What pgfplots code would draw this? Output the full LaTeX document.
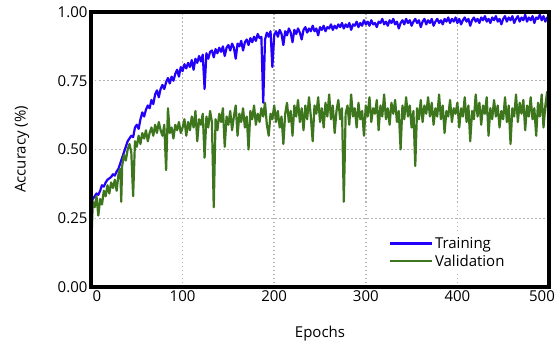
\documentclass[border=0pt]{standalone}
\usepackage{fontspec}
\setmainfont{Open Sans}
\usepackage{pgfplots}
\usepackage{pgfplotstable}
\pgfplotsset{compat=1.18}
\usetikzlibrary{calc}
\definecolor{trainblue}{RGB}{35,0,250}
\definecolor{valgreen}{RGB}{62,118,30}
\definecolor{gridgray}{RGB}{180,180,180}

\pgfplotstableread{
e v
0 0.30
2 0.32
4 0.33
6 0.34
8 0.335
10 0.35
12 0.37
14 0.365
16 0.38
18 0.39
20 0.395
22 0.40
24 0.41
26 0.405
28 0.42
30 0.43
32 0.45
34 0.47
36 0.49
38 0.51
40 0.53
42 0.54
44 0.55
46 0.545
48 0.58
50 0.59
52 0.575
54 0.61
56 0.635
58 0.62
60 0.645
62 0.66
64 0.65
66 0.68
68 0.665
70 0.70
72 0.715
74 0.69
76 0.72
78 0.735
80 0.72
82 0.745
84 0.76
86 0.74
88 0.765
90 0.75
92 0.775
94 0.79
96 0.765
98 0.80
100 0.785
102 0.81
104 0.795
106 0.815
108 0.80
110 0.825
112 0.79
114 0.83
116 0.815
118 0.84
120 0.82
122 0.845
124 0.72
126 0.85
128 0.83
130 0.855
132 0.86
134 0.835
136 0.865
138 0.85
140 0.87
142 0.855
144 0.875
146 0.84
148 0.87
150 0.88
152 0.86
154 0.885
156 0.87
158 0.83
160 0.885
162 0.875
164 0.895
166 0.86
168 0.89
170 0.90
172 0.88
174 0.905
176 0.89
178 0.91
180 0.895
182 0.92
184 0.905
186 0.91
188 0.67
190 0.90
192 0.925
194 0.91
196 0.93
198 0.80
200 0.915
202 0.93
204 0.91
206 0.935
208 0.92
210 0.88
212 0.93
214 0.915
216 0.94
218 0.925
220 0.89
222 0.935
224 0.92
226 0.94
228 0.925
230 0.90
232 0.935
234 0.945
236 0.925
238 0.94
240 0.93
242 0.95
244 0.93
246 0.94
248 0.915
250 0.945
252 0.935
254 0.95
256 0.93
258 0.945
260 0.94
262 0.955
264 0.935
266 0.95
268 0.94
270 0.955
272 0.945
274 0.96
276 0.94
278 0.955
280 0.945
282 0.96
284 0.935
286 0.955
288 0.95
290 0.965
292 0.945
294 0.96
296 0.95
298 0.97
300 0.955
302 0.965
304 0.95
306 0.97
308 0.955
310 0.96
312 0.945
314 0.965
316 0.96
318 0.975
320 0.955
322 0.965
324 0.95
326 0.97
328 0.96
330 0.975
332 0.955
334 0.965
336 0.94
338 0.96
340 0.97
342 0.955
344 0.975
346 0.96
348 0.97
350 0.95
352 0.965
354 0.975
356 0.96
358 0.97
360 0.945
362 0.965
364 0.975
366 0.955
368 0.97
370 0.96
372 0.975
374 0.95
376 0.965
378 0.975
380 0.96
382 0.97
384 0.955
386 0.975
388 0.965
390 0.98
392 0.96
394 0.975
396 0.965
398 0.98
400 0.96
402 0.975
404 0.955
406 0.97
408 0.98
410 0.965
412 0.975
414 0.95
416 0.97
418 0.98
420 0.965
422 0.975
424 0.96
426 0.98
428 0.97
430 0.985
432 0.965
434 0.975
436 0.96
438 0.98
440 0.97
442 0.985
444 0.965
446 0.975
448 0.955
450 0.975
452 0.985
454 0.965
456 0.98
458 0.97
460 0.985
462 0.96
464 0.975
466 0.985
468 0.965
470 0.98
472 0.97
474 0.99
476 0.965
478 0.98
480 0.97
482 0.985
484 0.96
486 0.98
488 0.975
490 0.99
492 0.97
494 0.985
496 0.965
498 0.98
500 0.975
}\training

\pgfplotstableread{
e v
0 0.00
1 0.22
2 0.31
4 0.29
6 0.33
8 0.26
10 0.32
12 0.30
14 0.35
16 0.33
18 0.37
20 0.34
22 0.38
24 0.36
26 0.39
28 0.35
30 0.41
32 0.43
33 0.31
34 0.44
36 0.48
38 0.46
40 0.50
42 0.52
44 0.49
46 0.33
48 0.53
50 0.51
52 0.55
54 0.52
56 0.56
58 0.54
60 0.57
62 0.53
64 0.56
66 0.58
68 0.55
70 0.59
72 0.56
74 0.60
76 0.57
78 0.55
80 0.59
82 0.425
84 0.65
86 0.56
88 0.58
90 0.54
92 0.59
94 0.57
96 0.60
98 0.56
100 0.58
102 0.61
104 0.55
106 0.60
108 0.57
110 0.62
112 0.58
114 0.64
116 0.53
118 0.61
120 0.59
122 0.63
124 0.47
126 0.62
128 0.58
130 0.64
132 0.60
134 0.29
136 0.61
138 0.57
140 0.63
142 0.60
144 0.65
146 0.51
148 0.62
150 0.59
152 0.64
154 0.57
156 0.62
158 0.66
160 0.55
162 0.63
164 0.60
166 0.65
168 0.58
170 0.62
172 0.50
174 0.64
176 0.61
178 0.66
180 0.59
182 0.63
184 0.60
186 0.65
188 0.62
190 0.67
192 0.59
194 0.55
196 0.63
198 0.61
200 0.66
202 0.60
204 0.64
206 0.58
208 0.62
210 0.52
212 0.63
214 0.67
216 0.60
218 0.64
220 0.55
222 0.66
224 0.62
226 0.68
228 0.60
230 0.65
232 0.57
234 0.66
236 0.61
238 0.69
240 0.62
242 0.53
244 0.66
246 0.63
248 0.69
250 0.60
252 0.65
254 0.58
256 0.67
258 0.62
260 0.70
262 0.61
264 0.66
266 0.56
268 0.64
270 0.68
272 0.61
274 0.65
276 0.31
278 0.63
280 0.66
282 0.59
284 0.70
286 0.62
288 0.65
290 0.58
292 0.67
294 0.61
296 0.64
298 0.55
300 0.66
302 0.62
304 0.69
306 0.60
308 0.65
310 0.63
312 0.68
314 0.57
316 0.66
318 0.62
320 0.70
322 0.61
324 0.65
326 0.59
328 0.67
330 0.63
332 0.68
334 0.60
336 0.64
338 0.50
340 0.66
342 0.61
344 0.69
346 0.62
348 0.66
350 0.58
352 0.64
354 0.44
356 0.65
358 0.61
360 0.68
362 0.60
364 0.66
366 0.63
368 0.69
370 0.62
372 0.67
374 0.59
376 0.65
378 0.62
380 0.70
382 0.61
384 0.66
386 0.56
388 0.64
390 0.62
392 0.68
394 0.60
396 0.65
398 0.63
400 0.67
402 0.58
404 0.65
406 0.62
408 0.69
410 0.60
412 0.66
414 0.53
416 0.64
418 0.61
420 0.70
422 0.62
424 0.67
426 0.59
428 0.66
430 0.63
432 0.69
434 0.55
436 0.65
438 0.61
440 0.68
442 0.62
444 0.66
446 0.58
448 0.64
450 0.61
452 0.69
454 0.60
456 0.66
458 0.52
460 0.65
462 0.62
464 0.70
466 0.60
468 0.67
470 0.63
472 0.68
474 0.57
476 0.66
478 0.62
480 0.69
482 0.61
484 0.65
486 0.55
488 0.67
490 0.62
492 0.70
494 0.58
496 0.66
498 0.71
500 0.56
}\validation

\begin{document}
\begin{tikzpicture}
\begin{axis}[
  scale only axis,
  width=458pt, height=275pt,
  xmin=0, xmax=500, ymin=0, ymax=1,
  xtick={0,100,200,300,400,500},
  xticklabels={\hspace*{12pt}0,100,200,300,400,500\hspace*{14pt}},
  ytick={0,0.25,0.5,0.75,1},
  /pgf/number format/assume math mode=true,
  yticklabel style={/pgf/number format/fixed,/pgf/number format/fixed zerofill,/pgf/number format/precision=2},
  ticklabel style={font=\fontsize{15}{18}\selectfont},
  major tick length=0pt,
  grid=major,
  major grid style={gridgray, line width=1.5pt, dash pattern=on 1.5pt off 2.5pt},
  axis line style={draw=none},
  xlabel={Epochs},
  ylabel={Accuracy (\%)},
  label style={font=\fontsize{15}{18}\selectfont},
  xlabel style={at={(axis description cs:0.5,-0.182)}, anchor=base},
  ylabel style={at={(axis description cs:-0.1507,0.5)}, anchor=center},
  legend style={at={(0.645,0.055)}, anchor=south west, draw=none, fill=white,
    font=\fontsize{15}{18}\selectfont, row sep=1pt, inner sep=2pt},
  legend cell align=left,
  legend image code/.code={\draw[#1, line width=2.4pt] (0pt,0pt) -- (42pt,0pt);},
]
\addplot[trainblue, line width=2.2pt, line join=round] table[x=e, y=v] {\training};
\addlegendentry{Training}
\addplot[valgreen, line width=2.2pt, line join=round] table[x=e, y=v] {\validation};
\addlegendentry{Validation}
\end{axis}
\draw[black, line width=3.4pt] (current axis.south west) rectangle (current axis.north east);
\pgfresetboundingbox
\path[use as bounding box] ($(current axis.south west)+(-91pt,-58pt)$) rectangle ($(current axis.north east)+(9pt,12pt)$);
\end{tikzpicture}
\end{document}
